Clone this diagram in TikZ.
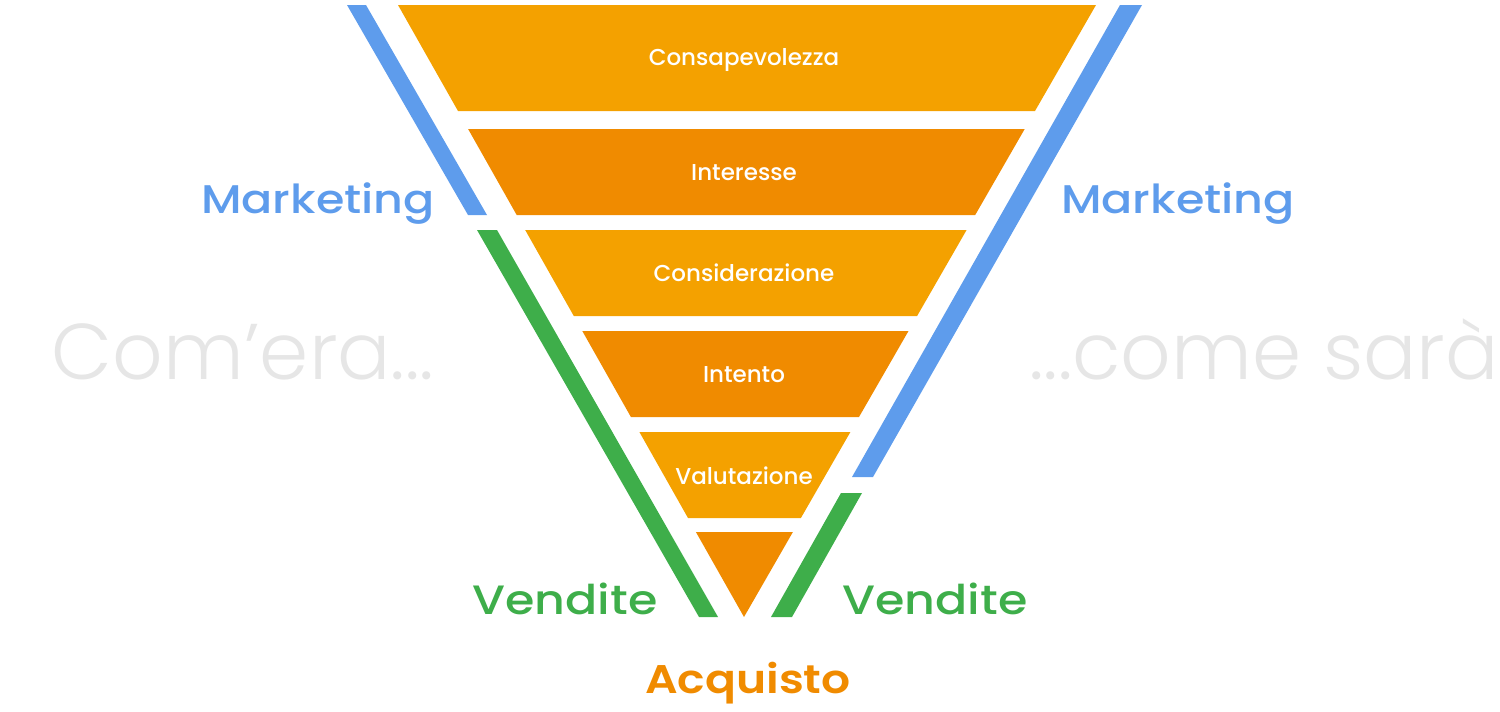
\documentclass[tikz,border=0pt]{standalone}
\usepackage{fontspec}
\setmainfont{Poppins}
\newfontfamily\plight{Poppins Light}
\newfontfamily\pmed{Poppins Medium}
\newfontfamily\pmedw{Poppins Medium}[FakeStretch=1.15]
\newfontfamily\pmedv{Poppins Medium}[FakeStretch=1.16]
\newfontfamily\psemiw{Poppins SemiBold}[FakeStretch=1.14]
\definecolor{orA}{HTML}{F4A100}
\definecolor{orB}{HTML}{F08B00}
\definecolor{mblue}{HTML}{5E9CEC}
\definecolor{vgreen}{HTML}{3EAE4A}
\definecolor{ggrey}{HTML}{E6E6E6}
\tikzset{
  bandlbl/.style={text=white, font=\pmed\fontsize{11.5}{12}\selectfont, anchor=base, inner sep=0pt},
  mlbl/.style={text=mblue, font=\pmedw\fontsize{20}{22}\selectfont, anchor=base, inner sep=0pt},
  vlbl/.style={text=vgreen, font=\pmedv\fontsize{20.5}{22}\selectfont, anchor=base, inner sep=0pt},
  glbl/.style={text=ggrey, font=\plight\fontsize{39.5}{44}\selectfont, anchor=base, inner sep=0pt},
  albl/.style={text=orB, font=\psemiw\fontsize{20}{22}\selectfont, anchor=base, inner sep=0pt}
}
\begin{document}
\begin{tikzpicture}[x=0.5pt,y=-0.5pt]
\useasboundingbox (0,0) rectangle (1500,712);
% funnel bands
\fill[orA] (398,5) -- (1096,5) -- (1035,111) -- (458,111) -- cycle;
\fill[orB] (468.1,129) -- (1024.7,129) -- (975.2,215) -- (516.7,215) -- cycle;
\fill[orA] (525.2,230) -- (966.6,230) -- (917.1,316) -- (573.8,316) -- cycle;
\fill[orB] (582.3,331) -- (908.5,331) -- (859.0,417) -- (630.9,417) -- cycle;
\fill[orA] (639.4,432) -- (850.4,432) -- (800.9,518) -- (688.0,518) -- cycle;
\fill[orB] (695.9,532) -- (792.9,532) -- (744,617) -- cycle;
% side bands
\fill[mblue] (347,5) -- (366,5) -- (487,215) -- (468,215) -- cycle;
\fill[vgreen] (477,230) -- (497,230) -- (718,617) -- (699,617) -- cycle;
\fill[mblue] (1120,5) -- (1142,5) -- (873,477) -- (852,477) -- cycle;
\fill[vgreen] (841,493) -- (862,493) -- (792,617) -- (771,617) -- cycle;
% band labels
\node[bandlbl] (l1) at (744,65) {Consapevolezza};
\node[bandlbl] (l2) at (744,180) {Interesse};
\node[bandlbl] (l3) at (744,281) {Considerazione};
\node[bandlbl] (l4) at (744,382) {Intento};
\node[bandlbl] (l5) at (744,484) {Valutazione};
% side labels
\node[mlbl] (mk1) at (318,213) {Marketing};
\node[mlbl] (mk2) at (1178,213) {Marketing};
\node[vlbl] (vd1) at (565,614) {Vendite};
\node[vlbl] (vd2) at (935,614) {Vendite};
\node[albl] (acq) at (748,693) {Acquisto};
\node[glbl] (old) at (243,379) {Com’era...};
\node[glbl] (new) at (1264,379) {...come sarà};
\end{tikzpicture}
\end{document}
